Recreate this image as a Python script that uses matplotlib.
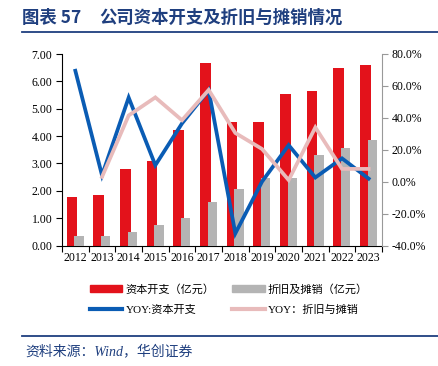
import numpy as np
import matplotlib
matplotlib.use("Agg")
import matplotlib.pyplot as plt
from matplotlib.lines import Line2D

plt.rcParams['font.family'] = ['Liberation Serif', 'Noto Sans CJK SC', 'DejaVu Sans']

years = ['2012', '2013', '2014', '2015', '2016', '2017',
         '2018', '2019', '2020', '2021', '2022', '2023']
capex = [1.77, 1.84, 2.81, 3.10, 4.23, 6.66, 4.50, 4.50, 5.53, 5.66, 6.48, 6.60]
dep = [0.34, 0.35, 0.50, 0.76, 1.02, 1.58, 2.07, 2.47, 2.47, 3.31, 3.57, 3.86]
# yoy in percent; depreciation yoy starts in 2013
yoy_capex = [69.5, 4.0, 52.7, 10.3, 36.5, 57.4, -32.4, 0.0, 22.9, 2.6, 14.6, 1.9]
yoy_dep = [None, 3.0, 41.5, 52.8, 38.5, 57.5, 30.5, 20.5, 1.0, 34.0, 8.0, 8.0]

red = '#E3121B'
gray = '#B4B4B4'
blue = '#0A5CB4'
pink = '#E8BBBB'
navy = '#1F3F7F'

fig = plt.figure(figsize=(4.38, 3.66), dpi=100)
ax = fig.add_axes([62 / 438, 1 - 245.5 / 366, 320 / 438, 191.5 / 366])
ax2 = ax.twinx()

x = np.arange(len(years))
ax.bar(x - 0.13, capex, width=0.4, color=red, zorder=2)
ax.bar(x + 0.14, dep, width=0.35, color=gray, zorder=3)

yd_x = [i for i, v in enumerate(yoy_dep) if v is not None]
yd_v = [v for v in yoy_dep if v is not None]
ax2.plot(x, yoy_capex, color=blue, lw=2.7, solid_joinstyle='miter')
ax2.plot(yd_x, yd_v, color=pink, lw=2.7, solid_joinstyle='miter')

ax.set_xlim(-0.5, len(years) - 0.5)
ax.set_ylim(0, 7)
ax.set_yticks(np.arange(0, 7.01, 1))
ax.set_yticklabels([f'{v:.2f}' for v in np.arange(0, 7.01, 1)])
ax2.set_ylim(-40, 80)
ax2.set_yticks(np.arange(-40, 80.1, 20))
ax2.set_yticklabels([f'{v:.1f}%' for v in np.arange(-40, 80.1, 20)])

ax.set_xticks(x)
ax.set_xticklabels(years)
ax.set_xticks(np.arange(-0.5, len(years), 1), minor=True)
ax.tick_params(axis='x', which='major', length=0, pad=5, labelsize=8.5)
ax.tick_params(axis='x', which='minor', length=4, width=0.8, direction='out')
ax.tick_params(axis='y', length=4, width=0.8, labelsize=8.5, pad=3)
ax2.tick_params(axis='y', length=4, width=0.8, labelsize=8.5, pad=3, color='#999999')

for a in (ax, ax2):
    a.spines['top'].set_visible(False)
ax.spines['right'].set_visible(False)
ax2.spines['left'].set_visible(False)
ax2.spines['bottom'].set_visible(False)
ax2.spines['right'].set_color('#999999')
ax.spines['left'].set_linewidth(0.8)
ax.spines['bottom'].set_linewidth(0.8)

cjk = ['Liberation Serif', 'Noto Sans CJK SC']
handles = [
    plt.Rectangle((0, 0), 1, 1, color=red),
    Line2D([], [], color=blue, lw=3),
    plt.Rectangle((0, 0), 1, 1, color=gray),
    Line2D([], [], color=pink, lw=3),
]
labels = ['资本开支（亿元）', 'YOY:资本开支', '折旧及摊销（亿元）', 'YOY：折旧与摊销']
fig.legend(handles, labels, ncol=2, loc='center', bbox_to_anchor=(0.523, 0.182),
           frameon=False, prop={'family': cjk, 'size': 8}, handlelength=2.9,
           handleheight=0.6, handletextpad=0.3, columnspacing=1.6, labelspacing=0.95)

title_font = ['Noto Sans CJK SC', 'DejaVu Sans']
fig.text(22 / 438, 1 - 18 / 366, '图表 57', color=navy, fontsize=12.5,
         fontweight='bold', va='center', ha='left', family=title_font)
fig.text(99 / 438, 1 - 18 / 366, '公司资本开支及折旧与摊销情况', color=navy, fontsize=12.5,
         fontweight='bold', va='center', ha='left', family=title_font)
fig.add_artist(Line2D([22 / 438, 1], [1 - 32 / 366, 1 - 32 / 366], color=navy, lw=1.3))
fig.add_artist(Line2D([22 / 438, 1], [1 - 336 / 366, 1 - 336 / 366], color=navy, lw=1.3))
fig.text(25 / 438, 1 - 351 / 366, '资料来源：Wind，华创证券', color=navy, fontsize=10,
         style='italic', va='center', ha='left', family=cjk)

fig.savefig('out.png', dpi=100)
